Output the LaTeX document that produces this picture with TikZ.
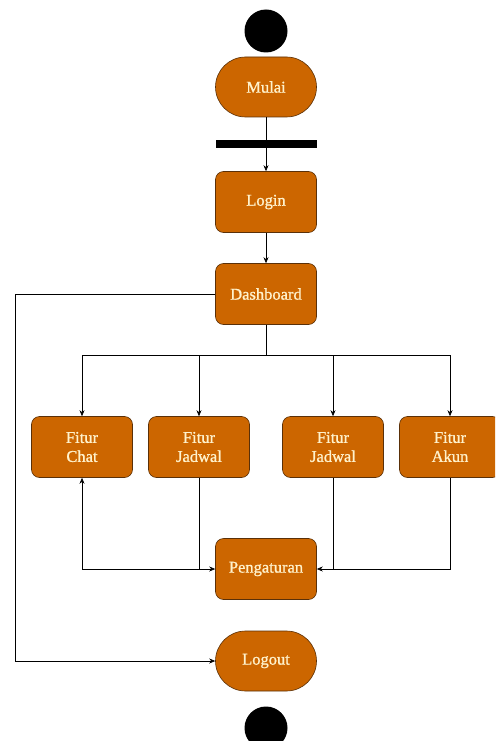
\documentclass[tikz,border=0pt]{standalone}
\usepackage{fontspec}
\setmainfont{Liberation Serif}
\newfontfamily\labelfont[FakeBold=1]{Liberation Serif}
\usetikzlibrary{arrows.meta}

\definecolor{isian}{HTML}{CC6600}
\definecolor{garis}{HTML}{5A3008}
\definecolor{tulisan}{HTML}{FFF2CC}

\tikzset{
  aksi/.style={draw=garis, fill=isian, text=tulisan, rounded corners=8pt,
    minimum width=101pt, minimum height=61pt, inner sep=0pt, align=center,
    line width=0.6pt, font=\fontsize{16.5}{19}\labelfont},
  terminal/.style={aksi, rounded corners=30pt, minimum height=60pt},
  titik/.style={circle, fill=black, minimum size=43pt, inner sep=0pt},
  alur/.style={-{Stealth[length=6pt,width=5pt]}, line width=0.6pt},
  sambung/.style={line width=0.6pt}
}

\begin{document}
\begin{tikzpicture}[x=1pt,y=-1pt]
  \useasboundingbox (0,0) rectangle (495,741);
  \clip (0,0) rectangle (495,741);

  \node[titik] (mulaiTitik) at (266,31) {};
  \node[terminal] (Mulai) at (266,87) {Mulai};
  \node[fill=black, minimum width=101pt, minimum height=8pt, inner sep=0pt] (bar) at (266,144) {};
  \node[aksi] (Login) at (266,202) {Login};
  \node[aksi] (Dashboard) at (266,294) {Dashboard};

  \node[aksi] (Chat) at (82,447) {Fitur\\Chat};
  \node[aksi] (JadwalA) at (199,447) {Fitur\\Jadwal};
  \node[aksi] (JadwalB) at (333,447) {Fitur\\Jadwal};
  \node[aksi] (Akun) at (450,447) {Fitur\\Akun};

  \node[aksi] (Pengaturan) at (266,569) {Pengaturan};
  \node[terminal] (Logout) at (266,661) {Logout};
  \node[titik] (akhirTitik) at (266,728) {};

  \coordinate (cabang) at (266,355);
  \coordinate (kiri) at (15,294);

  \draw[alur] (Mulai) -- (Login);
  \draw[alur] (Login) -- (Dashboard);

  % percabangan ke fitur
  \draw[sambung] (Dashboard.south) -- (cabang);
  \foreach \f in {Chat,JadwalA,JadwalB,Akun}
    \draw[alur] (cabang) -| (\f.north);

  % ke pengaturan
  \draw[alur] (JadwalA.south) |- (Pengaturan.west);
  \draw[alur] (JadwalA.south |- Pengaturan.west) -| (Chat.south);
  \draw[alur] (JadwalB.south) |- (Pengaturan.east);
  \draw[sambung] (Akun.south) |- (JadwalB.south |- Pengaturan.east);

  % keluar
  \draw[alur] (Dashboard.west) -- (kiri) |- (Logout.west);
\end{tikzpicture}
\end{document}
